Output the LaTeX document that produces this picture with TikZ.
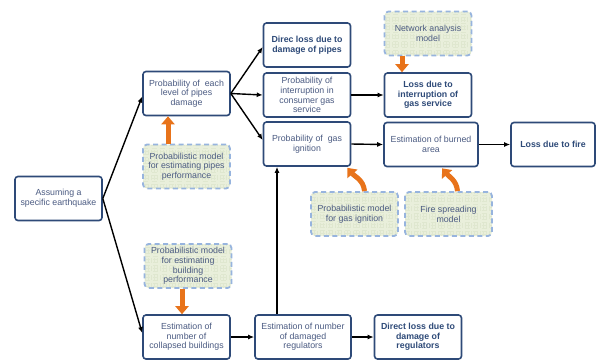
\documentclass[tikz,border=0pt]{standalone}
\usepackage{fontspec}
\setmainfont{Liberation Sans}
\usetikzlibrary{arrows.meta}
\definecolor{QuakeBorder}{HTML}{2E4A78}
\definecolor{QuakeText}{HTML}{4B5B82}
\definecolor{QuakeDash}{HTML}{97B4DE}
\definecolor{QuakeFill}{HTML}{E9EFDB}
\definecolor{QuakeGrid}{HTML}{DFE7CF}
\definecolor{QuakeOrange}{HTML}{E8731A}

\begin{document}
\begin{tikzpicture}[x=1pt,y=-1pt,
    stagebox/.style={draw=QuakeBorder,line width=1.6pt,rounded corners=3pt,fill=white,
      text=QuakeText,align=center,font=\fontsize{8.8}{9.7}\selectfont,
      minimum width=87pt,minimum height=44pt,inner sep=1pt},
    lossbox/.style={stagebox,text=QuakeBorder,font=\fontsize{8.8}{9.7}\selectfont\bfseries},
    modelbox/.style={draw=QuakeDash,line width=1.8pt,dash pattern=on 5pt off 3.5pt,
      rounded corners=4pt,fill=QuakeFill,text=QuakeText,align=center,
      font=\fontsize{8.8}{9.7}\selectfont,minimum width=87pt,minimum height=44pt,inner sep=1pt,
      path picture={\draw[QuakeGrid,line width=0.3pt,step=3pt]
        (path picture bounding box.south west) grid (path picture bounding box.north east);}},
    flow/.style={black,line width=1.4pt,-{Latex[length=6pt,width=5pt]}},
    feed/.style={QuakeOrange,line width=5pt,-{Triangle[length=8pt,width=13pt]}}]
  \useasboundingbox (0,0) rectangle (596,360);

  % stages
  \node[stagebox] (quake) at (58.5,198.5) {Assuming a\\specific earthquake};
  \node[stagebox] (pipesdmg) at (186.5,93.5) {Probability of\ \ each\\level of pipes\\damage};
  \node[lossbox] (pipesloss) at (307,45) {Direc loss due to\\damage of pipes};
  \node[stagebox] (interrupt) at (307,95) {Probability of\\interruption in\\consumer gas\\service};
  \node[stagebox] (ignition) at (307,144) {Probability of\ \ gas\\ignition};
  \node[lossbox] (serviceloss) at (428,95) {Loss due to\\interruption of\\gas service};
  \node[stagebox,minimum width=94pt] (burned) at (431,144.5) {Estimation of burned\\area};
  \node[lossbox,minimum width=84pt] (fireloss) at (553,144.5) {Loss due to fire};
  \node[stagebox] (collapsed) at (186.5,337) {Estimation of\\number of\\collapsed buildings};
  \node[stagebox,minimum width=96pt] (regs) at (303,337) {Estimation of number\\of damaged\\regulators};
  \node[lossbox] (regsloss) at (418,337) {Direct loss due to\\damage of\\regulators};

  % models
  \node[modelbox] (pipesmodel) at (186.5,166.5) {Probabilistic model\\for estimating pipes\\performance};
  \node[modelbox] (netmodel) at (428,33.5) {Network analysis\\model};
  \node[modelbox] (ignmodel) at (354.5,214) {Probabilistic model\\for gas ignition};
  \node[modelbox] (firemodel) at (448.5,214) {Fire spreading\\model};
  \node[modelbox] (bldmodel) at (188,266) {Probabilistic model\\for estimating\\building\\performance};

  % flow
  \draw[flow] (quake.east) -- ([yshift=-3pt]pipesdmg.west);
  \draw[flow] (quake.east) -- ([yshift=4pt]collapsed.west);
  \draw[flow] (pipesdmg.east) -- ([yshift=-2pt]pipesloss.west);
  \draw[flow] (pipesdmg.east) -- (interrupt.west);
  \draw[flow] (pipesdmg.east) -- ([yshift=4pt]ignition.west);
  \draw[flow] (interrupt.east) -- (serviceloss.west);
  \draw[flow] (ignition.east) -- (burned.west);
  \draw[flow] (burned.east) -- (fireloss.west);
  \draw[flow] (collapsed.east) -- (regs.west);
  \draw[flow] (regs.east) -- (regsloss.west);
  \draw[flow] ([xshift=-26pt]regs.north) -- ([xshift=-26pt]regs.north |- ignition.south);

  % model inputs
  \draw[feed] ([xshift=-18.5pt]pipesmodel.north) -- ([xshift=-18.5pt]pipesdmg.south);
  \draw[feed] ([xshift=-26pt]netmodel.south) -- ([xshift=-26pt]netmodel.south |- serviceloss.north);
  \draw[feed] ([xshift=-6pt]bldmodel.south) -- ([xshift=-6pt]bldmodel.south |- collapsed.north);
  \draw[feed] ([xshift=10pt]ignmodel.north) to[out=95,in=-50] ([xshift=-4pt,yshift=-1pt]ignition.south east);
  \draw[feed] ([xshift=9pt]firemodel.north) to[out=95,in=-50] ([xshift=11pt,yshift=-1pt]burned.south);
\end{tikzpicture}
\end{document}
